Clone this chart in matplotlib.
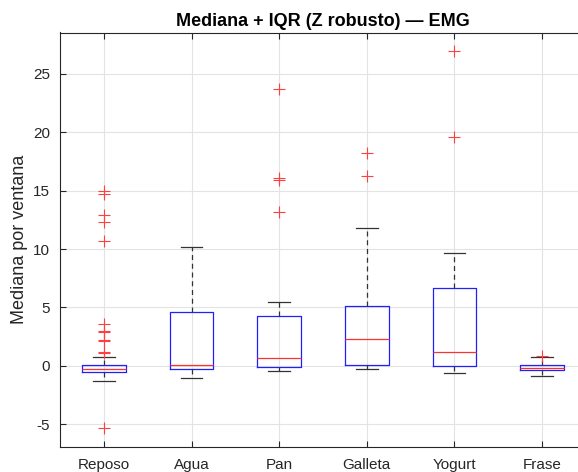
import matplotlib
matplotlib.use("Agg")
import matplotlib.pyplot as plt

plt.rcParams['font.family'] = ['Liberation Sans', 'DejaVu Sans']

grupos = ["Reposo", "Agua", "Pan", "Galleta", "Yogurt", "Frase"]
q1 = [-0.5, -0.29, -0.06, 0.05, -0.03, -0.34]
mediana = [-0.23, 0.08, 0.63, 2.34, 1.17, -0.2]
q3 = [0.1, 4.65, 4.25, 5.1, 6.7, 0.11]
bigote_inf = [-1.26, -1.0, -0.43, -0.31, -0.6, -0.83]
bigote_sup = [0.74, 10.16, 5.45, 11.84, 9.67, 0.77]
atipicos = [
    [15.0, 14.7, 12.9, 12.3, 10.7, 3.6, 3.0, 2.9, 2.2, 2.1, 1.2, 1.1, -5.3],
    [],
    [23.7, 16.1, 15.9, 13.2],
    [18.26, 16.3],
    [26.97, 19.6],
    [0.86],
]

stats = []
for i in range(len(grupos)):
    stats.append({"label": grupos[i], "q1": q1[i], "med": mediana[i], "q3": q3[i],
                  "whislo": bigote_inf[i], "whishi": bigote_sup[i], "fliers": atipicos[i]})

fig = plt.figure(figsize=(5.78, 4.72), dpi=100)
ax = fig.add_axes([60/578, 25/472, 526/578, 414.5/472])

rojo = (1.0, 0.25, 0.25)
ax.bxp(stats, positions=range(1, 7), widths=0.5, showfliers=True,
       boxprops=dict(color="#2020ff", linewidth=0.9),
       medianprops=dict(color="#ff3030", linewidth=0.9),
       whiskerprops=dict(color="#333333", linestyle=(0, (4, 3)), linewidth=0.9),
       capprops=dict(color="#333333", linewidth=0.9),
       capwidths=0.25,
       flierprops=dict(marker="+", color=rojo, markeredgecolor=rojo, markerfacecolor=rojo,
                       markersize=8.5, markeredgewidth=0.8, linestyle="none"))

ax.set_xlim(0.5, 6.5)
ax.set_ylim(-6.95, 28.55)
ax.set_yticks([-5, 0, 5, 10, 15, 20, 25])
ax.set_yticklabels(["-5", "0", "5", "10", "15", "20", "25"])
ax.grid(True, color="#e3e3e3", linewidth=0.8)
ax.set_axisbelow(True)
ax.tick_params(direction="in", top=True, right=True, labelsize=11, colors="#262626", length=4)
ax.tick_params(axis="y", pad=7)
ax.tick_params(axis="x", pad=8)
for s in ax.spines.values():
    s.set_color("#262626")
    s.set_linewidth(0.8)

ax.set_title("Mediana + IQR (Z robusto) — EMG", fontsize=13, fontweight="bold", pad=5)
ax.set_ylabel("Mediana por ventana", fontsize=13, color="#262626", labelpad=4)

fig.savefig("out.png", dpi=100)
